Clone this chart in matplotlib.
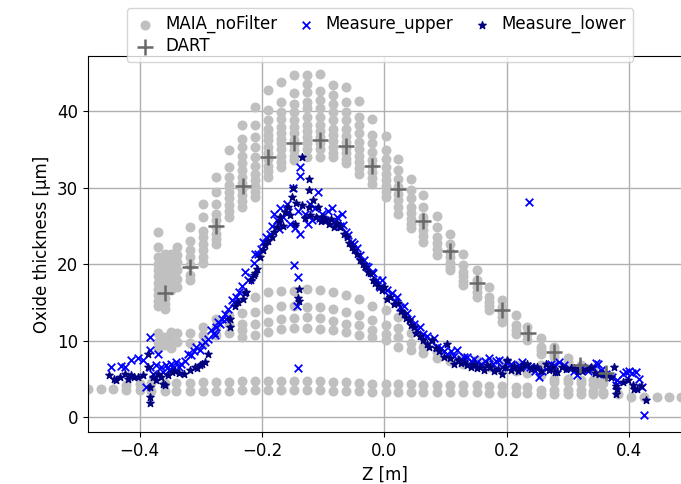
import numpy as np
import matplotlib
matplotlib.use('Agg')
import matplotlib.pyplot as plt

#============================================
# data
#============================================
# DART (+ markers)
dart_z = [-0.359, -0.318, -0.275, -0.232, -0.190, -0.147, -0.105, -0.063, -0.020,
          0.023, 0.064, 0.107, 0.151, 0.193, 0.235, 0.277, 0.320, 0.362]
dart_t = [16.2, 19.6, 25.0, 30.2, 34.0, 35.8, 36.2, 35.4, 32.9,
          29.8, 25.7, 21.7, 17.5, 14.0, 11.0, 8.5, 6.8, 5.8]

# MAIA_noFilter, upper arc: one column of dots per z
arc_z = [-0.370, -0.359, -0.349, -0.339, -0.318, -0.297, -0.275, -0.254, -0.233,
         -0.211, -0.190, -0.169, -0.147, -0.127, -0.106, -0.084, -0.063, -0.041,
         -0.020, 0.002, 0.023, 0.044, 0.064, 0.086, 0.107, 0.129, 0.151, 0.171,
         0.193, 0.215, 0.234, 0.256, 0.278, 0.300, 0.321, 0.341, 0.357]
arc_t = [
    [24.2, 22.3, 21.0, 20.0, 19.2, 18.4, 17.6, 16.8, 16.0, 15.2, 14.5],
    [21.4, 20.4, 19.5, 18.7, 17.9, 17.1, 16.4, 15.6, 14.8, 14.2],
    [21.4, 20.5, 19.7, 18.9, 18.1, 17.4, 16.6],
    [22.3, 21.2, 20.3, 19.2, 18.1, 17.0],
    [24.9, 23.1, 21.8, 21.0, 19.9, 18.6, 17.9],
    [27.9, 26.2, 24.4, 23.6, 22.7, 21.8, 21.0, 20.1],
    [31.4, 29.5, 27.9, 26.6, 25.8, 24.9, 24.0, 23.3, 22.7],
    [34.9, 32.7, 31.4, 30.3, 29.5, 28.6, 27.8, 27.0, 26.2],
    [38.2, 36.4, 35.3, 34.2, 33.2, 32.3, 31.4, 30.6, 29.8, 29.0, 28.3, 27.5],
    [40.6, 38.2, 36.6, 35.3, 34.0, 32.9, 31.8, 31.0, 30.2, 29.5, 28.8],
    [42.8, 40.1, 38.8, 37.7, 36.9, 36.2, 35.3, 34.5, 33.7, 32.9, 32.2, 31.4],
    [43.8, 41.2, 39.9, 39.0, 37.9, 37.1, 36.4, 35.8, 35.0, 34.2, 33.4, 32.7],
    [44.7, 42.4, 41.0, 39.9, 38.8, 37.9, 37.1, 36.3, 35.6, 34.9, 34.2, 33.6],
    [44.7, 43.6, 42.5, 41.2, 40.4, 39.2, 38.2, 37.4, 36.6, 35.8, 35.0, 34.0],
    [44.9, 42.7, 41.5, 40.4, 39.2, 38.2, 37.4, 36.6, 35.8, 35.0, 34.0],
    [43.4, 42.1, 41.0, 39.9, 38.8, 37.7, 36.9, 36.1, 35.3, 34.6, 34.0],
    [43.2, 41.2, 39.9, 38.8, 37.7, 36.8, 36.0, 35.2, 34.5, 33.8, 33.2],
    [41.4, 39.2, 38.2, 37.1, 36.0, 35.1, 34.2, 33.4, 32.6, 31.8],
    [39.0, 36.9, 35.8, 34.7, 33.6, 32.8, 32.0, 31.3, 30.5],
    [36.7, 34.9, 33.8, 32.7, 31.8, 31.0, 30.2, 29.5, 28.8],
    [33.8, 32.3, 31.2, 30.1, 29.2, 28.4, 27.5, 26.6],
    [31.2, 29.7, 28.6, 27.5, 26.7, 25.9, 25.3, 24.7],
    [29.0, 27.5, 26.2, 25.3, 24.5, 23.7, 22.9],
    [26.3, 24.9, 23.6, 22.8, 22.0, 21.2],
    [24.0, 22.7, 21.6, 20.9, 20.2, 19.6, 19.2],
    [21.4, 19.9, 19.0, 18.4, 17.8, 17.3],
    [19.2, 17.9, 17.0, 16.4, 15.7],
    [17.0, 15.7, 15.0, 14.5, 14.0],
    [15.3, 14.4, 13.7, 13.1, 12.5],
    [13.3, 12.0, 11.4, 10.9],
    [11.8, 10.9, 10.1],
    [10.3, 9.2, 8.8, 8.3],
    [9.2, 8.8, 8.3, 7.9],
    [7.7, 7.2],
    [6.8, 6.6],
    [6.4],
    [5.9],
]

# MAIA_noFilter, middle band
mid_z = [-0.370, -0.359, -0.349, -0.339, -0.318, -0.297, -0.275, -0.254, -0.233,
         -0.211, -0.190, -0.169, -0.147, -0.127, -0.106, -0.084, -0.063, -0.041,
         -0.020, 0.002, 0.023, 0.044, 0.064, 0.086, 0.107, 0.129, 0.151, 0.171,
         0.193, 0.215, 0.234, 0.256, 0.278, 0.300, 0.321, 0.341, 0.350, 0.357]
mid_t = [
    [11.0, 9.8, 9.0], [10.5, 9.5], [11.2, 10.0, 9.0], [11.0, 9.8], [11.0, 9.7],
    [11.8, 10.7, 9.6], [12.9, 11.8, 10.7], [13.3, 12.2, 11.0],
    [13.6, 12.2, 11.4, 10.5], [15.7, 13.8, 12.2, 10.7], [16.4, 14.2, 12.5, 11.2],
    [16.5, 14.5, 12.9, 11.5], [16.5, 14.5, 13.0, 11.6], [16.8, 14.4, 13.1, 11.6],
    [16.6, 14.4, 13.0, 11.5], [16.4, 14.2, 12.6, 11.4], [16.0, 13.8, 12.2, 11.1],
    [15.5, 13.3, 12.0, 10.7], [14.6, 12.7, 11.4, 10.5], [14.0, 12.0, 10.9, 10.1],
    [13.1, 11.6, 10.5, 9.2], [11.0, 9.7, 8.8], [9.2, 8.4], [8.5, 7.8], [7.9, 7.4],
    [7.7, 7.0], [7.5, 6.8], [7.2, 6.5], [7.0, 6.2], [6.8, 6.0], [6.5, 5.8],
    [6.8, 6.4, 5.5], [6.6, 5.0, 4.6], [5.0, 4.6], [4.9, 4.5], [4.9, 4.4],
    [4.8, 4.4], [4.9, 4.5],
]

# MAIA_noFilter, bottom band
base_z = [-0.485, -0.464, -0.444, -0.422, -0.400, -0.381, -0.359, -0.340, -0.318,
          -0.297, -0.275, -0.254, -0.233, -0.211, -0.190, -0.169, -0.148, -0.127,
          -0.106, -0.084, -0.063, -0.041, -0.020, 0.002, 0.023, 0.044, 0.064,
          0.086, 0.107, 0.129, 0.151, 0.171, 0.193, 0.215, 0.234, 0.256, 0.278,
          0.300, 0.321, 0.341, 0.357, 0.383, 0.404, 0.425, 0.446, 0.466, 0.485]
base_t = [
    [3.7], [3.7], [3.7], [4.2, 3.6], [4.3, 3.5],
    [4.5, 3.4], [4.5, 3.4], [4.5, 3.4], [4.5, 3.4], [4.6, 3.4], [4.6, 3.4],
    [4.6, 3.4], [4.7, 3.5], [4.7, 3.5], [4.7, 3.5], [4.7, 3.5], [4.7, 3.5],
    [4.7, 3.5], [4.7, 3.5], [4.6, 3.4], [4.6, 3.4], [4.5, 3.4], [4.4, 3.3],
    [4.3, 3.3], [4.3, 3.3], [4.3, 3.3], [4.2, 3.3], [4.2, 3.3], [4.2, 3.3],
    [4.2, 3.3], [4.2, 3.3], [4.1, 3.2], [4.1, 3.2], [4.0, 3.2], [4.0, 3.2],
    [3.5, 3.1], [3.5, 3.1], [3.5, 3.1], [3.5, 3.1], [3.4, 3.0], [3.3, 3.0],
    [3.0], [2.7], [2.7], [2.7], [2.7], [2.7],
]

# Measure_upper (blue x)
up_z = [-0.447, -0.431, -0.425, -0.414, -0.403, -0.395, -0.390, -0.384, -0.384, -0.383,
        -0.378, -0.373, -0.370, -0.365, -0.362, -0.357, -0.352, -0.349, -0.345, -0.340,
        -0.336, -0.332, -0.326, -0.321, -0.316, -0.312, -0.308, -0.302, -0.298, -0.294,
        -0.289, -0.283, -0.279, -0.277, -0.275, -0.272, -0.269, -0.265, -0.261, -0.259,
        -0.255, -0.250, -0.246, -0.242, -0.237, -0.233, -0.228, -0.223, -0.218, -0.214,
        -0.212, -0.206, -0.202, -0.198, -0.193, -0.187, -0.184, -0.181, -0.176, -0.173,
        -0.170, -0.165, -0.160, -0.157, -0.154, -0.149, -0.146, -0.142, -0.138, -0.138,
        -0.138, -0.148, -0.142, -0.143, -0.141, -0.130, -0.125, -0.121, -0.119, -0.113,
        -0.108, -0.105, -0.102, -0.097, -0.092, -0.086, -0.082, -0.078, -0.073, -0.069,
        -0.067, -0.063, -0.059, -0.053, -0.049, -0.045, -0.039, -0.034, -0.030, -0.026,
        -0.020, -0.018, -0.012, -0.007, -0.004, 0.004, 0.008, 0.013, 0.017, 0.021,
        0.026, 0.032, 0.037, 0.043, 0.048, 0.054, 0.058, 0.064, 0.070, 0.076,
        0.081, 0.086, 0.092, 0.098, 0.103, 0.109, 0.114, 0.119, 0.125, 0.130,
        0.136, 0.141, 0.147, 0.152, 0.158, 0.165, 0.171, 0.177, 0.182, 0.187,
        0.193, 0.200, 0.207, 0.213, 0.220, 0.226, 0.233, 0.237, 0.239, 0.246,
        0.253, 0.258, 0.267, 0.272, 0.278, 0.286, 0.294, 0.302, 0.310, 0.316,
        0.324, 0.333, 0.341, 0.346, 0.349, 0.355, 0.362, 0.372, 0.379, 0.381,
        0.390, 0.395, 0.400, 0.405, 0.411, 0.417, 0.422, 0.425]
up_t = [6.6, 6.7, 6.6, 7.5, 7.7, 7.5, 4.0, 10.5, 8.8, 6.6,
        5.7, 6.8, 8.3, 6.6, 5.9, 6.8, 6.2, 7.0, 6.4, 7.2,
        6.6, 7.0, 7.4, 8.3, 8.1, 8.6, 9.2, 8.8, 9.5, 9.8,
        10.2, 11.4, 11.0, 10.7, 11.8, 12.4, 12.2, 12.8, 13.5, 12.9,
        14.1, 15.3, 15.0, 15.7, 16.4, 17.2, 19.0, 17.9, 18.3, 20.1,
        21.4, 21.4, 22.0, 22.9, 23.5, 24.0, 25.0, 26.6, 25.8, 24.6,
        27.3, 26.2, 27.9, 26.8, 25.3, 29.9, 24.7, 27.0, 24.0, 32.7,
        31.5, 19.9, 18.3, 14.6, 6.4, 26.5, 25.2, 27.9, 25.8, 27.3,
        29.5, 26.0, 26.6, 25.8, 26.9, 27.3, 25.5, 26.2, 25.0, 26.6,
        25.1, 24.2, 23.8, 22.9, 22.6, 22.1, 21.2, 20.5, 19.8, 19.6,
        19.0, 18.8, 17.9, 17.0, 18.0, 16.6, 15.9, 16.2, 15.2, 15.7,
        14.4, 14.6, 13.6, 12.9, 12.2, 11.4, 11.8, 10.9, 10.6, 10.0,
        10.3, 9.2, 9.0, 8.6, 8.3, 8.7, 8.0, 8.8, 7.6, 7.9,
        7.9, 7.3, 7.6, 7.2, 6.9, 7.4, 7.7, 7.0, 7.3, 7.5,
        6.6, 7.1, 7.0, 6.4, 6.8, 7.2, 6.7, 28.1, 6.6, 6.0,
        5.3, 6.1, 6.6, 7.0, 6.8, 7.2, 6.8, 6.4, 6.1, 5.5,
        6.6, 6.0, 6.4, 7.1, 7.0, 6.2, 5.6, 5.2, 4.2, 4.8,
        5.7, 5.9, 6.1, 5.8, 5.9, 5.0, 4.0, 0.26]

# Measure_lower (navy stars)
lo_z = [-0.450, -0.443, -0.439, -0.432, -0.425, -0.420, -0.414, -0.409, -0.403, -0.395,
        -0.387, -0.386, -0.384, -0.384, -0.384, -0.379, -0.374, -0.370, -0.365, -0.362,
        -0.359, -0.354, -0.348, -0.343, -0.336, -0.327, -0.318, -0.310, -0.306, -0.302,
        -0.298, -0.294, -0.289, -0.253, -0.253, -0.245, -0.240, -0.231, -0.228, -0.226,
        -0.218, -0.214, -0.211, -0.209, -0.203, -0.199, -0.195, -0.190, -0.184, -0.180,
        -0.176, -0.172, -0.170, -0.166, -0.162, -0.157, -0.154, -0.151, -0.149, -0.146,
        -0.144, -0.139, -0.142, -0.140, -0.135, -0.135, -0.130, -0.124, -0.124, -0.124,
        -0.121, -0.116, -0.112, -0.108, -0.104, -0.100, -0.095, -0.091, -0.087, -0.083,
        -0.078, -0.072, -0.066, -0.061, -0.057, -0.053, -0.049, -0.045, -0.039, -0.035,
        -0.031, -0.027, -0.023, -0.019, -0.015, -0.010, -0.004, -0.001, 0.004, 0.010,
        0.016, 0.023, 0.027, 0.032, 0.036, 0.040, 0.044, 0.048, 0.052, 0.058,
        0.064, 0.069, 0.073, 0.078, 0.084, 0.090, 0.097, 0.103, 0.108, 0.114,
        0.120, 0.125, 0.130, 0.136, 0.141, 0.147, 0.152, 0.157, 0.163, 0.168,
        0.173, 0.179, 0.186, 0.193, 0.197, 0.201, 0.207, 0.212, 0.218, 0.224,
        0.229, 0.234, 0.240, 0.245, 0.250, 0.257, 0.264, 0.270, 0.275, 0.280,
        0.283, 0.290, 0.297, 0.305, 0.310, 0.317, 0.324, 0.331, 0.338, 0.344,
        0.352, 0.358, 0.365, 0.370, 0.376, 0.379, 0.379, 0.381, 0.390, 0.398,
        0.406, 0.409, 0.414, 0.420, 0.428]
lo_t = [5.5, 5.0, 4.8, 5.3, 5.7, 5.0, 5.5, 5.2, 5.3, 5.5,
        8.3, 6.5, 4.0, 2.7, 1.9, 5.3, 4.9, 5.7, 5.3, 4.4,
        4.2, 5.5, 5.9, 6.1, 5.8, 5.7, 6.2, 6.6, 6.4, 6.8,
        6.9, 7.2, 8.3, 11.8, 12.9, 14.6, 15.0, 15.5, 16.2, 16.4,
        17.9, 18.6, 18.8, 19.4, 21.0, 21.8, 22.5, 23.0, 23.6, 24.2,
        24.9, 25.5, 26.2, 25.0, 26.8, 27.5, 26.4, 28.8, 29.9, 25.3,
        28.0, 16.8, 15.6, 15.2, 34.0, 27.7, 26.0, 31.2, 29.7, 27.5,
        26.4, 28.4, 26.2, 27.5, 25.6, 26.2, 25.8, 25.3, 25.9, 24.9,
        25.4, 24.9, 24.0, 23.6, 22.8, 22.3, 21.8, 21.4, 20.5, 20.0,
        19.6, 19.0, 18.8, 18.0, 17.5, 17.2, 16.6, 17.0, 15.5, 15.7,
        14.8, 14.9, 13.9, 13.5, 13.0, 12.7, 12.0, 11.8, 11.0, 10.6,
        10.1, 9.6, 9.2, 10.1, 9.0, 8.6, 7.9, 9.6, 7.8, 7.0,
        7.5, 7.1, 7.2, 6.8, 6.6, 6.9, 6.4, 6.6, 6.2, 6.8,
        6.5, 6.1, 6.3, 5.7, 6.5, 7.5, 6.2, 6.7, 6.1, 6.4,
        6.9, 7.0, 6.3, 6.5, 6.6, 6.1, 7.0, 6.2, 6.5, 5.9,
        5.9, 6.6, 6.3, 6.4, 6.4, 6.0, 6.1, 6.3, 6.6, 5.8,
        5.7, 5.6, 5.5, 5.3, 6.6, 4.1, 3.1, 3.7, 4.6, 4.8,
        4.2, 3.7, 3.7, 4.1, 2.2]


def flatten(zcols, tcols):
    """expand per-column lists into flat z, t arrays"""
    z, t = [], []
    for zc, tc in zip(zcols, tcols):
        z += [zc]*len(tc)
        t += tc
    return np.array(z), np.array(t)


#============================================
# plot
#============================================
plt.rcParams.update({'font.size': 12})

fig = plt.figure(figsize=(6.81, 4.84), dpi=100)
ax = fig.add_axes([0.129, 0.107, 0.8725, 0.777])

maia_z, maia_t = [], []
for zc, tc in [(arc_z, arc_t), (mid_z, mid_t), (base_z, base_t)]:
    z, t = flatten(zc, tc)
    maia_z.append(z)
    maia_t.append(t)
maia_z = np.concatenate(maia_z)
maia_t = np.concatenate(maia_t)

h_maia = ax.scatter(maia_z, maia_t, s=38, color='silver', label='MAIA_noFilter')
h_up = ax.scatter(up_z, up_t, s=30, marker='x', color='blue', linewidths=1.3,
                  label='Measure_upper')
h_lo = ax.scatter(lo_z, lo_t, s=30, marker='*', color='navy', label='Measure_lower')
h_dart = ax.scatter(dart_z, dart_t, s=130, marker='+', color='dimgray',
                    linewidths=1.8, label='DART')

ax.set_xlim(-0.485, 0.487)
ax.set_ylim(-1.96, 47.2)
ax.set_xticks([-0.4, -0.2, 0.0, 0.2, 0.4])
ax.set_yticks([0, 10, 20, 30, 40])
ax.grid(True, color='#b0b0b0', linewidth=1.0)
ax.set_axisbelow(True)
ax.set_xlabel('Z [m]')
ax.set_ylabel('Oxide thickness [μm]')

# legend filled column-wise: MAIA/DART, upper, lower
fig.legend(handles=[h_maia, h_dart, h_up, h_lo], loc='upper center',
           bbox_to_anchor=(380/681, 1.0), ncol=3, borderpad=0.4,
           labelspacing=0.25, handlelength=1.4, handletextpad=0.5,
           columnspacing=1.0)

fig.savefig('out.png', dpi=100)
